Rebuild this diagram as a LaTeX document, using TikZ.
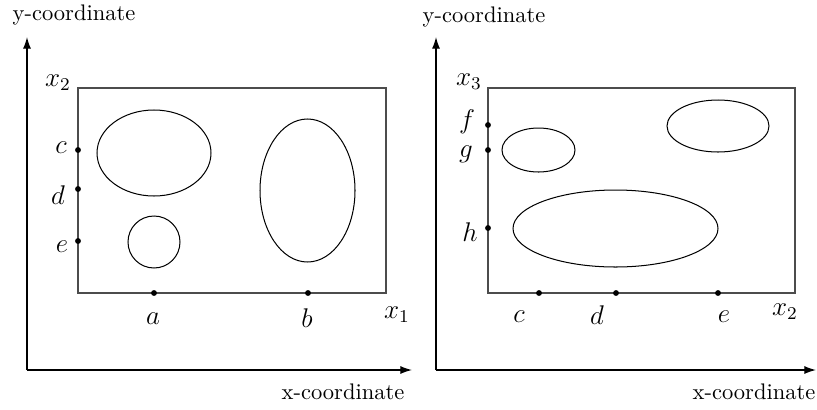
\documentclass[tikz,border=0pt]{standalone}
\usetikzlibrary{arrows.meta}
\begin{document}
\begin{tikzpicture}[x=0.444pt,y=-0.444pt,
  axis/.style={line width=0.6pt,-{Latex[length=5.2pt,width=3.6pt]}},
  frame/.style={draw=black!70,line width=0.7pt},
  blob/.style={draw=black,line width=0.45pt},
  dotnode/.style={circle,fill=black,inner sep=0pt,minimum size=2.6pt},
  mlab/.style={inner sep=0pt,font=\large},
  tlab/.style={inner sep=0pt,font=\normalsize}]
\useasboundingbox (0,0) rectangle (817,409);
% ---------- left panel ----------
\coordinate (O1) at (27,370);
\coordinate (Y1) at (27,37);
\coordinate (X1) at (412,370);
\draw[axis] (O1) -- (Y1);
\draw[axis] (O1) -- (X1);
\node[tlab] (ylab1) at (74,15) {y-coordinate};
\node[tlab] (xlab1) at (343,392) {x-coordinate};
\coordinate (R1a) at (78,88);
\coordinate (R1b) at (386,293);
\draw[frame] (R1a) rectangle (R1b);
\node[mlab] (x2l) at (58,83) {$x_2$};
\node[mlab] (x1l) at (397,315) {$x_1$};
\draw[blob] (154,153) ellipse [x radius=57, y radius=43];
\draw[blob] (154,242) circle [radius=26];
\draw[blob] (307.5,190.5) ellipse [x radius=47.5, y radius=71.5];
\node[dotnode] (c1) at (78,150) {};
\node[dotnode] (d1) at (78,189) {};
\node[dotnode] (e1) at (78,241) {};
\node[dotnode] (a1) at (154,293) {};
\node[dotnode] (b1) at (308,293) {};
\node[mlab] (cl1) at (61,148) {$c$};
\node[mlab] (dl1) at (58,195) {$d$};
\node[mlab] (el1) at (62,247) {$e$};
\node[mlab] (al1) at (153,319) {$a$};
\node[mlab] (bl1) at (307,318) {$b$};
% ---------- right panel ----------
\coordinate (O2) at (436,370);
\coordinate (Y2) at (436,37);
\coordinate (X2) at (816,370);
\draw[axis] (O2) -- (Y2);
\draw[axis] (O2) -- (X2);
\node[tlab] (ylab2) at (484,17) {y-coordinate};
\node[tlab] (xlab2) at (754,392) {x-coordinate};
\coordinate (R2a) at (488,88);
\coordinate (R2b) at (795,293);
\draw[frame] (R2a) rectangle (R2b);
\node[mlab] (x3l) at (469,82) {$x_3$};
\node[mlab] (x2r) at (785,312) {$x_2$};
\draw[blob] (538.5,150) ellipse [x radius=36.5, y radius=22];
\draw[blob] (718,126) ellipse [x radius=51, y radius=26];
\draw[blob] (615.5,228.5) ellipse [x radius=102.5, y radius=38.5];
\node[dotnode] (f2) at (488,125) {};
\node[dotnode] (g2) at (488,150) {};
\node[dotnode] (h2) at (488,228) {};
\node[dotnode] (c2) at (539,293) {};
\node[dotnode] (d2) at (616,293) {};
\node[dotnode] (e2) at (718,293) {};
\node[mlab] (fl2) at (467,122) {$f$};
\node[mlab] (gl2) at (466,154) {$g$};
\node[mlab] (hl2) at (470,232) {$h$};
\node[mlab] (cl2) at (519,317) {$c$};
\node[mlab] (dl2) at (597,315) {$d$};
\node[mlab] (el2) at (724,317) {$e$};
\end{tikzpicture}
\end{document}
